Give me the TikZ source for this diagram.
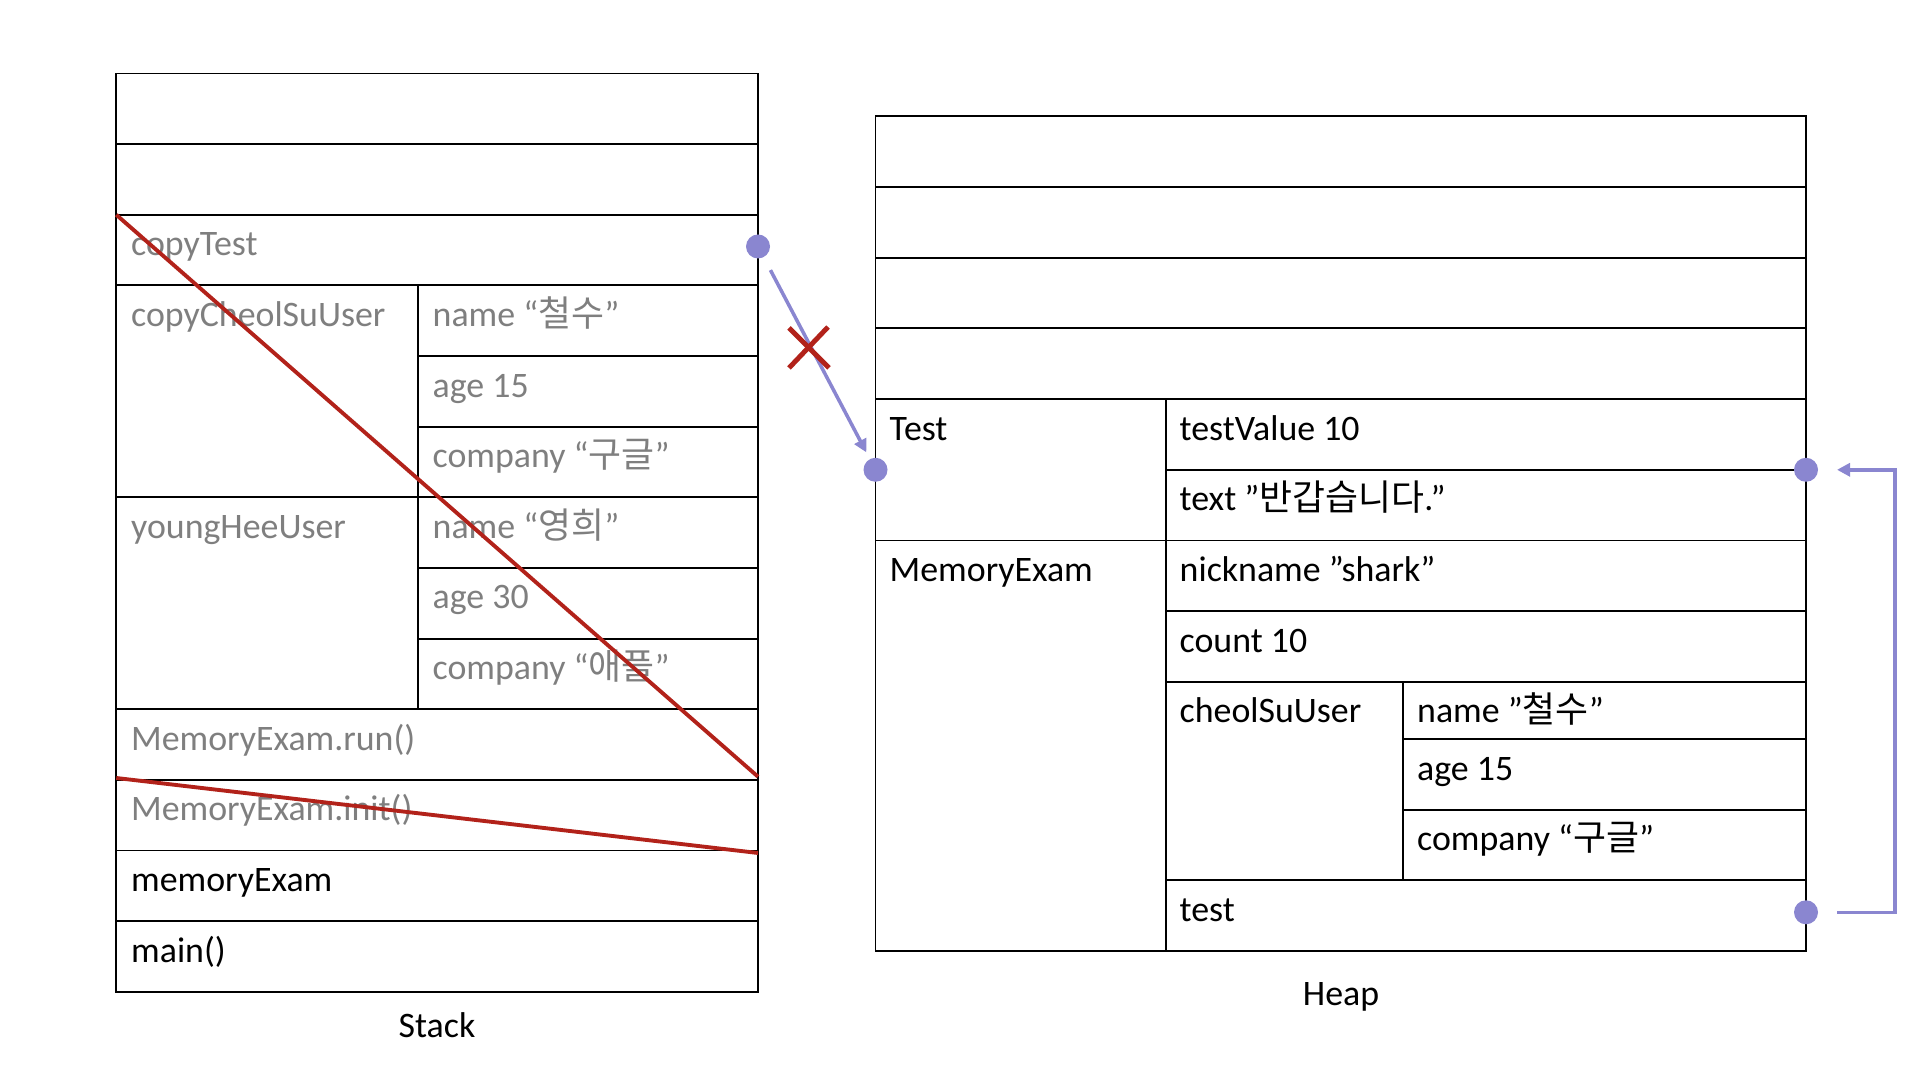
\documentclass[tikz,border=0pt]{standalone}
\usepackage{fontspec}
\setmainfont{Carlito}
\newfontfamily\kr{Noto Sans CJK KR}
\usepackage{tikz}
\usetikzlibrary{calc,arrows.meta,positioning}
\definecolor{dim}{RGB}{127,127,127}
\definecolor{strike}{RGB}{178,34,26}
\definecolor{ptr}{RGB}{138,134,208}

\begin{document}
\begin{tikzpicture}[
  txt/.style={anchor=base west, inner sep=0pt, font=\fontsize{10.2}{12}\selectfont},
  old/.style={txt, text=dim},
  dot/.style={circle, fill=ptr, inner sep=0pt, minimum size=2.4mm},
  link/.style={ptr, line width=1pt, -{Triangle[length=1.3mm,width=1.3mm]}},
  cut/.style={strike, line width=1.1pt}]
\useasboundingbox (0,0) rectangle (19.2,10.8);
% stack frame
\draw[line width=0.55pt] (1.163,0.882) rectangle (7.58,10.065);
\draw[line width=0.55pt] (1.163,9.359)--(7.58,9.359) (1.163,8.652)--(7.58,8.652);
\draw[line width=0.55pt] (1.163,7.946)--(7.58,7.946) (1.163,5.827)--(7.58,5.827);
\draw[line width=0.55pt] (1.163,3.707)--(7.58,3.707) (1.163,3.001)--(7.58,3.001);
\draw[line width=0.55pt] (1.163,2.295)--(7.58,2.295) (1.163,1.588)--(7.58,1.588);
\draw[line width=0.55pt] (4.176,7.239)--(7.58,7.239) (4.176,6.533)--(7.58,6.533);
\draw[line width=0.55pt] (4.176,5.120)--(7.58,5.120) (4.176,4.414)--(7.58,4.414);
\draw[line width=0.55pt] (4.176,7.946)--(4.176,3.707);
% stack entries
\node[old] (copyTest) at (1.305,8.242) {copyTest};
\node[old] (copyUser) at (1.305,7.536) {copyCheolSuUser};
\node[old] (copyName) at (4.32,7.536) {name “{\kr 철수}”};
\node[old] (copyAge) at (4.32,6.829) {age 15};
\node[old] (copyCompany) at (4.32,6.123) {company “{\kr 구글}”};
\node[old] (heeUser) at (1.305,5.417) {youngHeeUser};
\node[old] (heeName) at (4.32,5.417) {name “{\kr 영희}”};
\node[old] (heeAge) at (4.32,4.710) {age 30};
\node[old] (heeCompany) at (4.32,4.004) {company “{\kr 애플}”};
\node[old] (runCall) at (1.305,3.297) {MemoryExam.run()};
\node[old] (initCall) at (1.305,2.591) {MemoryExam.init()};
\node[txt] (examVar) at (1.305,1.885) {memoryExam};
\node[txt] (mainCall) at (1.305,1.178) {main()};
\node[anchor=base, font=\fontsize{10.2}{12}\selectfont] (stackLabel) at (4.37,0.42) {Stack};
% popped frames
\draw[cut] (1.163,8.652) -- (7.58,3.033);
\draw[cut] (1.163,3.02) -- (7.58,2.27);
% heap frame
\draw[line width=0.55pt] (8.755,1.289) rectangle (18.06,9.637);
\draw[line width=0.55pt] (8.755,8.930)--(18.06,8.930) (8.755,8.223)--(18.06,8.223);
\draw[line width=0.55pt] (8.755,7.516)--(18.06,7.516) (8.755,6.809)--(18.06,6.809);
\draw[line width=0.55pt] (8.755,5.395)--(18.06,5.395);
\draw[line width=0.55pt] (11.657,6.102)--(18.06,6.102) (11.657,4.688)--(18.06,4.688);
\draw[line width=0.55pt] (11.657,3.981)--(18.06,3.981) (11.657,1.996)--(18.06,1.996);
\draw[line width=0.55pt] (14.033,3.408)--(18.06,3.408) (14.033,2.703)--(18.06,2.703);
\draw[line width=0.55pt] (11.657,6.809)--(11.657,1.289);
\draw[line width=0.55pt] (14.033,3.981)--(14.033,1.996);
% heap entries
\node[txt] (testObj) at (8.89,6.399) {Test};
\node[txt] (testValue) at (11.79,6.399) {testValue 10};
\node[txt] (testText) at (11.79,5.692) {text ”{\kr 반갑습니다}.”};
\node[txt] (examObj) at (8.89,4.985) {MemoryExam};
\node[txt] (nickname) at (11.79,4.985) {nickname ”shark”};
\node[txt] (count) at (11.79,4.278) {count 10};
\node[txt] (cheolUser) at (11.79,3.571) {cheolSuUser};
\node[txt] (cheolName) at (14.165,3.571) {name ”{\kr 철수}”};
\node[txt] (cheolAge) at (14.165,2.998) {age 15};
\node[txt] (cheolCompany) at (14.165,2.293) {company “{\kr 구글}”};
\node[txt] (testField) at (11.79,1.586) {test};
\node[anchor=base, font=\fontsize{10.2}{12}\selectfont] (heapLabel) at (13.41,0.74) {Heap};
% references
\node[dot] (s) at (7.58,8.335) {};
\node[dot] (t) at (8.755,6.102) {};
\node[dot] (v) at (18.06,6.102) {};
\node[dot] (w) at (18.06,1.677) {};
\draw[link, shorten <=1.4mm, shorten >=0.7mm] (s) -- (t);
\draw[link] ([xshift=3.1mm]w.center) -| ([xshift=8.9mm]v.center) -- ([xshift=3.1mm]v.center);
\coordinate (X) at (8.09,7.32);
\draw[strike, line width=1.4pt] (X) ++(-0.2,0.2) -- ++(0.4,-0.4);
\draw[strike, line width=1.4pt] (X) ++(0.19,0.21) -- ++(-0.39,-0.41);
\end{tikzpicture}
\end{document}
